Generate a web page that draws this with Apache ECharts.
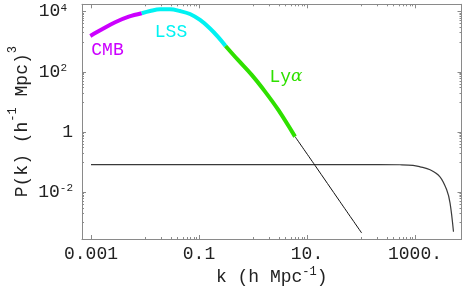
<!DOCTYPE html>
<html><head><meta charset="utf-8">
<script src="https://cdn.jsdelivr.net/npm/echarts@6/dist/echarts.min.js"></script>
<style>html,body{margin:0;padding:0;background:#fff}#c{width:463px;height:286px}</style>
</head><body><div id="c"></div>
<script>
// ---- data (k in h/Mpc, P in (Mpc/h)^3) ----
const kCMB = [0.00097, 0.0016, 0.0028, 0.005, 0.0087];
const pCMB = [1560, 2600, 4450, 6820, 8850];
const kLSS = [0.0087, 0.0124, 0.019, 0.029, 0.0445, 0.068, 0.1045, 0.16, 0.225, 0.31];
const pLSS = [8850, 10500, 12000, 12000, 10500, 8400, 5300, 2770, 1450, 725];
const kLya = [0.31, 0.527, 0.946, 1.67, 2.94, 6.0];
const pLya = [725, 248, 79, 22, 5.4, 0.70];
const kTail = [6.0, 14.1, 40.8, 103];
const pTail = [0.70, 0.0766, 0.0048, 0.000434];
const kNoise = [0.001, 0.1, 10, 200, 527, 918, 1240, 1900, 2900, 3860, 4450, 5160];
const pNoise = [0.082, 0.082, 0.082, 0.082, 0.081, 0.0776, 0.0693, 0.0551, 0.0323, 0.0119, 0.0044, 0.00048];

const xTickValues = [0.001, 0.1, 10, 1000];
const xTickLabels = ['0.001', '0.1', '10.', '1000.'];
const yTickValues = [0.01, 1, 100, 10000];
const yTickLabels = ['10^-2', '1', '10^2', '10^4'];
const regionLabels = ['CMB', 'LSS', 'Ly', 'α'];

// ---- helpers ----
const L = Math.log10;
const pts = (ks, ps) => ks.map((k, i) => [L(k), L(ps[i])]);
const X_MIN = -3.167, X_MAX = 3.861, Y_MIN = -3.561, Y_MAX = 4.246;
function minorTicks(majors, lo, hi, below) {
  const out = [];
  const start = below ? -1 : 0;
  for (let i = start; i < majors.length - 1; i++) {
    const base = i < 0 ? majors[0] / 100 : majors[i];
    for (let m = 1; m <= 9; m++) {
      const v = L(base * 10 * m);
      if (v >= lo && v <= hi) out.push(v);
    }
  }
  return out;
}
const xMajor = xTickValues.map(L);
const yMajor = yTickValues.map(L);
const xMinor = minorTicks(xTickValues, X_MIN, X_MAX, false);
const yMinor = minorTicks(yTickValues, Y_MIN, Y_MAX, true);

const FONT = 'Liberation Mono';
const TXT = '#222';
const AX = '#8a8a8a';
const MAG = '#cc00ff', CYA = '#00f2f2', GRN = '#2fe000';

function idxOf(vals, v) { return vals.findIndex(t => Math.abs(L(t) - v) < 1e-6); }
function xFmt(v) { const i = idxOf(xTickValues, v); return i < 0 ? '' : xTickLabels[i]; }
function yFmt(v) {
  const i = idxOf(yTickValues, v); if (i < 0) return '';
  const lab = yTickLabels[i];
  if (lab.indexOf('^') < 0) return '{b|' + lab + '}';
  const [b, e] = lab.split('^');
  return '{b|' + b + '}{' + (e[0] === '-' ? 's' : 'sp') + '|' + e + '}';
}

function xAxisDef(pos, ticks, len, main) {
  return {
    type: 'value', position: pos, min: X_MIN, max: X_MAX,
    axisLine: { show: main, onZero: false, lineStyle: { color: AX, width: 1 } },
    axisTick: { show: true, inside: true, length: len, customValues: ticks, lineStyle: { color: AX, width: 1 } },
    axisLabel: { show: false }, splitLine: { show: false }
  };
}
function yAxisDef(pos, ticks, len, main) {
  return {
    type: 'value', position: pos, min: Y_MIN, max: Y_MAX,
    axisLine: { show: main, onZero: false, lineStyle: { color: AX, width: 1 } },
    axisTick: { show: true, inside: true, length: len, customValues: ticks, lineStyle: { color: AX, width: 1 } },
    axisLabel: { show: false }, splitLine: { show: false }
  };
}

const xMain = xAxisDef('bottom', xMajor, 4, true);
xMain.axisLabel = { show: true, customValues: xMajor, formatter: xFmt, margin: 6,
  fontFamily: FONT, fontSize: 18, color: TXT };
xMain.name = '{a|k (h Mpc}{s|-1}{a|)}';
xMain.nameLocation = 'middle';
xMain.nameGap = 27;
xMain.nameMoveOverlap = false;
xMain.nameTextStyle = { rich: {
  a: { fontFamily: FONT, fontSize: 18, lineHeight: 22, verticalAlign: 'middle', color: TXT },
  s: { fontFamily: FONT, fontSize: 12, lineHeight: 12, verticalAlign: 'top', color: TXT } } };

const yMain = yAxisDef('left', yMajor, 4, true);
yMain.axisLabel = { show: true, customValues: yMajor, formatter: yFmt, margin: 9,
  rich: {
    b: { fontFamily: FONT, fontSize: 18, lineHeight: 18, verticalAlign: 'middle', color: TXT },
    s: { fontFamily: FONT, fontSize: 11, lineHeight: 10, verticalAlign: 'top', color: TXT },
    sp: { fontFamily: FONT, fontSize: 11, lineHeight: 10, verticalAlign: 'top', color: TXT, padding: [0, 6, 0, 0] }
  } };
yMain.name = '{a|P(k) (h}{s|-1}{a| Mpc)}{s|3}';
yMain.nameLocation = 'middle';
yMain.nameGap = 45;
yMain.nameRotate = 90;
yMain.nameMoveOverlap = false;
yMain.nameTextStyle = { rich: {
  a: { fontFamily: FONT, fontSize: 18, lineHeight: 30, verticalAlign: 'middle', color: TXT },
  s: { fontFamily: FONT, fontSize: 12, lineHeight: 12, verticalAlign: 'top', color: TXT } } };

function lineSeries(data, color, width, z) {
  return { type: 'line', data: data, xAxisIndex: 0, yAxisIndex: 0, showSymbol: false, symbol: 'none',
    smooth: 0.35, z: z, silent: true,
    lineStyle: { color: color, width: width }, emphasis: { disabled: true } };
}

const option = {
  animation: false,
  backgroundColor: '#fff',
  grid: { left: 82, right: 1.5, top: 4.3, bottom: 47, containLabel: false, outerBoundsMode: 'none' },
  xAxis: [xMain, xAxisDef('bottom', xMinor, 2, false), xAxisDef('top', xMajor, 4, true), xAxisDef('top', xMinor, 2, false)],
  yAxis: [yMain, yAxisDef('left', yMinor, 2, false), yAxisDef('right', yMajor, 4, true), yAxisDef('right', yMinor, 2, false)],
  series: [
    lineSeries(pts(kNoise, pNoise), '#3a3a3a', 1.2, 2),
    lineSeries(pts(kTail, pTail), '#111', 1, 3),
    lineSeries(pts(kCMB, pCMB), MAG, 4, 4),
    lineSeries(pts(kLSS, pLSS), CYA, 4, 4),
    lineSeries(pts(kLya, pLya), GRN, 4, 4)
  ],
  graphic: [
    { type: 'text', x: 107.5, y: 50.5, silent: true,
      style: { text: regionLabels[0], align: 'center', verticalAlign: 'middle', fontFamily: FONT, fontSize: 18, fill: MAG } },
    { type: 'text', x: 171, y: 32, silent: true,
      style: { text: regionLabels[1], align: 'center', verticalAlign: 'middle', fontFamily: FONT, fontSize: 18, fill: CYA } },
    { type: 'text', x: 286, y: 77, silent: true,
      style: { text: '{a|' + regionLabels[2] + '}{b|' + regionLabels[3] + '}', align: 'center', verticalAlign: 'middle',
        fill: GRN,
        rich: { a: { fontFamily: FONT, fontSize: 18, fill: GRN, color: GRN },
                b: { fontFamily: 'DejaVu Serif', fontStyle: 'italic', fontSize: 17, fill: GRN, color: GRN } } } }
  ]
};
const chart = echarts.init(document.getElementById('c'), null, { renderer: 'canvas' });
chart.setOption(option);
</script>
</body></html>
